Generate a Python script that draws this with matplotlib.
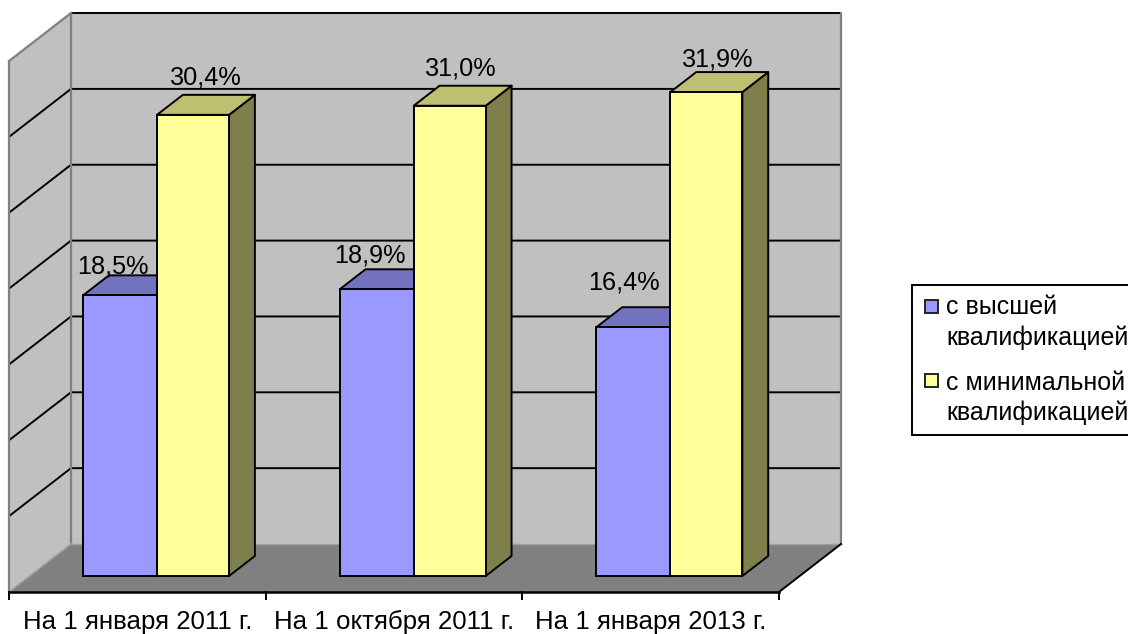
import matplotlib
matplotlib.use("Agg")
import matplotlib.pyplot as plt
from matplotlib.patches import Rectangle

plt.rcParams['font.family'] = ['Liberation Sans', 'DejaVu Sans']

categories = ["На 1 января 2011 г.", "На 1 октября 2011 г.", "На 1 января 2013 г."]
series_names = ["с высшей\nквалификацией", "с минимальной\nквалификацией"]
highest = [18.5, 18.9, 16.4]
minimal = [30.4, 31.0, 31.9]
value_labels_highest = ["18,5%", "18,9%", "16,4%"]
value_labels_minimal = ["30,4%", "31,0%", "31,9%"]
grid_values = [5, 10, 15, 20, 25, 30, 35]

W, H = 1128, 634
PX_X = 256.67          # pixels per category
PX_Y = 15.17           # pixels per percent
X0, Y0 = 9, 592        # pixel position of the data origin
DX, DY = 62 / PX_X, 48 / PX_Y   # full floor depth, in data units

fig = plt.figure(figsize=(W / 100, H / 100), dpi=100, facecolor="white")
ax = fig.add_axes([0, 0, 1, 1])
ax.set_xlim(-X0 / PX_X, (W - X0) / PX_X)
ax.set_ylim(-(H - Y0) / PX_Y, Y0 / PX_Y)
ax.axis("off")

n = len(categories)
top = grid_values[-1]
WALL, FLOOR, EDGE = "#C0C0C0", "#808080", "#808080"
LW = 1.4
TEXT = "#000000"

# walls and floor
ax.fill([0, DX, DX, 0], [0, DY, DY + top, top], color=WALL, zorder=1, lw=0)
ax.fill([DX, n + DX, n + DX, DX], [DY, DY, DY + top, DY + top], color=WALL, zorder=1, lw=0)
ax.fill([0, n, n + DX, DX], [0, 0, DY, DY], color=FLOOR, zorder=1, lw=0)

# grid lines
for v in grid_values[:-1]:
    ax.plot([0, DX, n + DX], [v, v + DY, v + DY], color="black", lw=LW, zorder=2,
            solid_capstyle="butt")
ax.plot([DX, n + DX], [top + DY, top + DY], color="black", lw=LW, zorder=2)
ax.plot([0, DX], [top, top + DY], color=EDGE, lw=1.6, zorder=2)
ax.plot([0, 0], [0, top], color=EDGE, lw=1.6, zorder=3)
ax.plot([DX, DX], [DY, DY + top], color=EDGE, lw=1.6, zorder=3)
ax.plot([n + DX, n + DX], [DY, DY + top], color=EDGE, lw=1.6, zorder=3)
ax.plot([0, DX], [0, DY], color="#A0A0A0", lw=1.2, zorder=3)
ax.plot([DX, n + DX], [DY, DY], color="#A0A0A0", lw=1.0, zorder=2)
ax.plot([n, n + DX], [0, DY], color="black", lw=LW, zorder=3)
ax.plot([0, n], [0, 0], color="black", lw=1.8, zorder=3)
for i in range(n + 1):
    ax.plot([i, i], [0, -7 / PX_Y], color="black", lw=LW, zorder=3)

# bars
FRONT, BACK = 1 / 3, 0.75
W1, W2 = 74 / PX_X, 72 / PX_X
START = 0.208
fx, fy = FRONT * DX, FRONT * DY
bx, by = BACK * DX, BACK * DY


def bar3d(left, width, value, front, side, topc, z):
    x0, x1 = left + fx, left + fx + width
    ax.bar(x0, value, width=width, bottom=fy, align="edge", color=front,
           edgecolor="black", lw=LW, zorder=z + 1)
    ax.fill([x1, x1 + bx - fx, x1 + bx - fx, x1],
            [fy, by, value + by, value + fy],
            facecolor=side, edgecolor="black", lw=LW, zorder=z, joinstyle="round")
    ax.fill([x0, x1, x1 + bx - fx, x0 + bx - fx],
            [value + fy, value + fy, value + by, value + by],
            facecolor=topc, edgecolor="black", lw=LW, zorder=z, joinstyle="round")
    return x0 + width / 2, value + fy


FS = 18.2
lab_hi = [(-7, 29), (-7, 34), (-9, 45)]
lab_mi = [(13, 37), (11, 37), (11, 33)]
for i in range(n):
    cx, cy = bar3d(i + START, W1, highest[i], "#9999FF", "#4C4C7F", "#7272BF", 5)
    ax.text(cx + lab_hi[i][0] / PX_X, cy + lab_hi[i][1] / PX_Y, value_labels_highest[i],
            ha="center", va="center", fontsize=FS, color=TEXT, zorder=20)
    cx, cy = bar3d(i + START + W1, W2, minimal[i], "#FFFF99", "#7F7F4C", "#BFBF72", 10)
    ax.text(cx + lab_mi[i][0] / PX_X, cy + lab_mi[i][1] / PX_Y, value_labels_minimal[i],
            ha="center", va="center", fontsize=FS, color=TEXT, zorder=20)
    ax.text(i + 0.5, -37 / PX_Y, categories[i], ha="center", va="baseline",
            fontsize=18.6, color=TEXT)


# legend, placed in figure pixels
def fx_(px):
    return px / W


def fy_(py):
    return 1 - py / H


fig.add_artist(Rectangle((fx_(912), fy_(435)), (W + 10 - 912) / W, 150 / H,
                         transform=fig.transFigure, facecolor="white",
                         edgecolor="black", lw=1.4, clip_on=False))
for name, color, y0, y1, y2 in zip(series_names, ["#9999FF", "#FFFF99"],
                                   [299, 373], [314, 390], [345, 420]):
    fig.add_artist(Rectangle((fx_(925), fy_(y0 + 14)), 13 / W, 13 / H,
                             transform=fig.transFigure, facecolor=color,
                             edgecolor="#222222", lw=1.4))
    first, second = name.split("\n")
    fig.text(fx_(946), fy_(y1), first, fontsize=18, ha="left", va="baseline", color=TEXT)
    fig.text(fx_(946), fy_(y2), second, fontsize=18, ha="left", va="baseline", color=TEXT)

fig.savefig("out.png", dpi=100, facecolor="white")
